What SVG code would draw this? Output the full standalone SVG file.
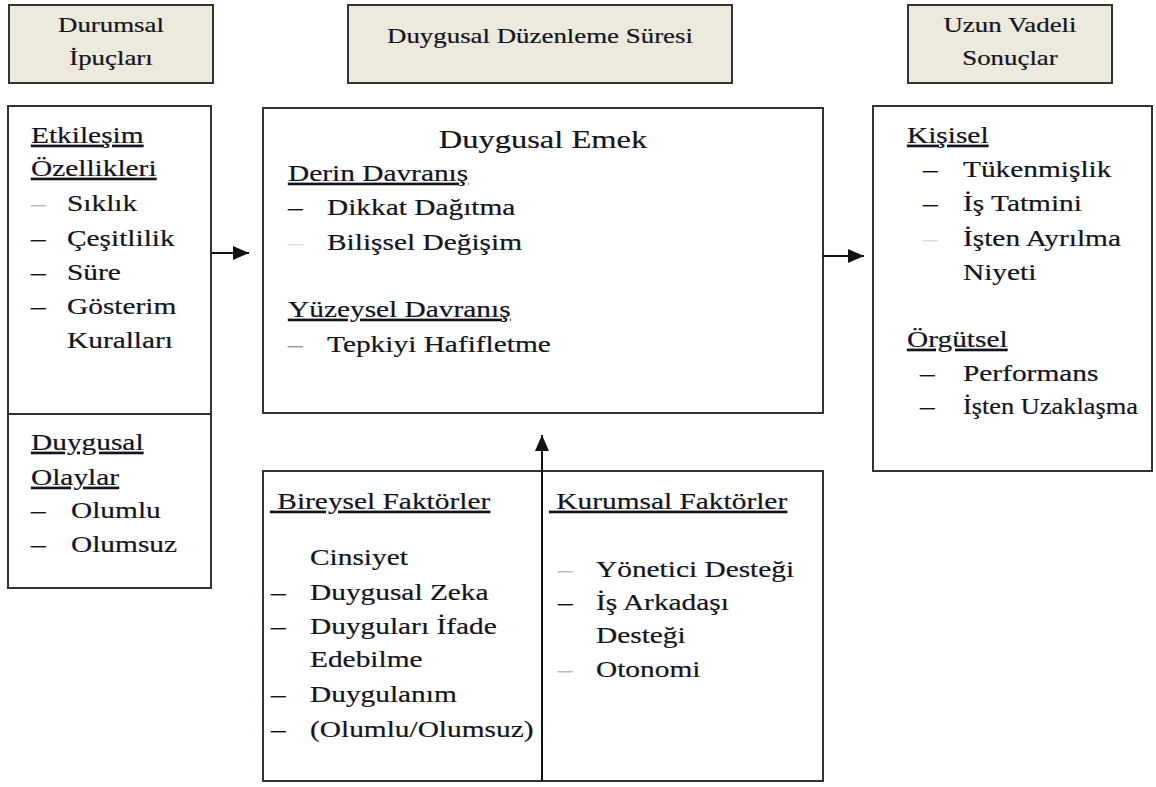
<svg xmlns="http://www.w3.org/2000/svg" width="1156" height="787" viewBox="0 0 1156 787">
<style>
.hdr{fill:#ECE9DD;stroke:#333;stroke-width:2}
.box{fill:#fff;stroke:#333;stroke-width:2}
text{font-family:"Liberation Serif","Times New Roman",serif;fill:#14141e;stroke:#14141e;stroke-width:0.2}
.h{font-size:21.5px;text-anchor:middle}
.b{font-size:23.5px}
.t{font-size:26px;text-anchor:middle}
.u{text-decoration:underline}
.d{font-size:23.5px}
.g1{fill:#bbb;stroke:#bbb}
.g2{fill:#ddd;stroke:#ddd}
.g3{fill:#999;stroke:#999}
.conn{stroke:#111;stroke-width:2;fill:none}
</style>
<defs>
<marker id="ah" markerUnits="userSpaceOnUse" markerWidth="16" markerHeight="14" refX="16" refY="7" orient="auto">
<path d="M0,0 L16,7 L0,14 z" fill="#111"/>
</marker>
</defs>
<rect width="1156" height="787" fill="#fff"/>

<g id="hdr-durumsal">
<rect class="hdr" x="9" y="5" width="204" height="78"/>
<g transform="scale(1.25,1)">
<text class="h" x="88.8" y="32">Durumsal</text>
<text class="h" x="88.8" y="65">İpuçları</text>
</g>
</g>

<g id="hdr-sure">
<rect class="hdr" x="348" y="5" width="384" height="78"/>
<g transform="scale(1.25,1)">
<text class="h" x="432" y="43">Duygusal Düzenleme Süresi</text>
</g>
</g>

<g id="hdr-sonuclar">
<rect class="hdr" x="908" y="5" width="204" height="78"/>
<g transform="scale(1.25,1)">
<text class="h" x="808" y="32">Uzun Vadeli</text>
<text class="h" x="808" y="65">Sonuçlar</text>
</g>
</g>

<g id="durumsal-ipuclari">
<rect class="box" x="8" y="106" width="203" height="482"/>
<line x1="8" y1="414" x2="211" y2="414" stroke="#333" stroke-width="2"/>
<g transform="scale(1.25,1)">
<text class="b u" x="24.8" y="143">Etkileşim</text>
<text class="b u" x="24.8" y="176">Özellikleri</text>
<text class="d g1" x="24.8" y="211">–</text><text class="b" x="53.6" y="211">Sıklık</text>
<text class="d" x="24.8" y="246">–</text><text class="b" x="53.6" y="246">Çeşitlilik</text>
<text class="d" x="24.8" y="280">–</text><text class="b" x="53.6" y="280">Süre</text>
<text class="d" x="24.8" y="314">–</text><text class="b" x="53.6" y="314">Gösterim</text>
<text class="b" x="53.6" y="348">Kuralları</text>
<text class="b u" x="24.8" y="450">Duygusal</text>
<text class="b u" x="24.8" y="485">Olaylar</text>
<text class="d" x="24.8" y="518">–</text><text class="b" x="56.8" y="518">Olumlu</text>
<text class="d" x="24.8" y="552">–</text><text class="b" x="56.8" y="552">Olumsuz</text>
</g>
</g>

<g id="duygusal-emek">
<rect class="box" x="263" y="108" width="560" height="305"/>
<g transform="scale(1.25,1)">
<text class="t" x="434.4" y="148">Duygusal Emek</text>
<text class="b u" x="230.4" y="181">Derin Davranış</text>
<text class="d" x="230.4" y="215">–</text><text class="b" x="261.6" y="215">Dikkat Dağıtma</text>
<text class="d g2" x="230.4" y="250">–</text><text class="b" x="261.6" y="250">Bilişsel Değişim</text>
<text class="b u" x="230.4" y="317">Yüzeysel Davranış</text>
<text class="d g3" x="230.4" y="352">–</text><text class="b" x="261.6" y="352">Tepkiyi Hafifletme</text>
</g>
</g>

<g id="uzun-vadeli-sonuclar">
<rect class="box" x="873" y="106" width="279" height="365"/>
<g transform="scale(1.25,1)">
<text class="b u" x="725.6" y="143">Kişisel</text>
<text class="d" x="738.4" y="177">–</text><text class="b" x="770.4" y="177">Tükenmişlik</text>
<text class="d" x="738.4" y="211">–</text><text class="b" x="770.4" y="211">İş Tatmini</text>
<text class="d g2" x="738.4" y="246">–</text><text class="b" x="770.4" y="246">İşten Ayrılma</text>
<text class="b" x="770.4" y="280">Niyeti</text>
<text class="b u" x="725.6" y="347">Örgütsel</text>
<text class="d" x="736" y="381">–</text><text class="b" x="770.4" y="381">Performans</text>
<text class="d" x="736" y="414">–</text><text class="b" x="770.4" y="414" textLength="140" lengthAdjust="spacingAndGlyphs">İşten Uzaklaşma</text>
</g>
</g>

<g id="faktorler">
<rect class="box" x="263" y="471" width="560" height="310"/>
<line x1="542" y1="471" x2="542" y2="781" stroke="#111" stroke-width="2"/>
<g transform="scale(1.25,1)">
<text class="b u" x="216" y="509" xml:space="preserve"> Bireysel Faktörler</text>
<text class="b" x="248" y="565">Cinsiyet</text>
<text class="d" x="216.8" y="600">–</text><text class="b" x="248" y="600">Duygusal Zeka</text>
<text class="d" x="216.8" y="634">–</text><text class="b" x="248" y="634">Duyguları İfade</text>
<text class="b" x="248" y="667">Edebilme</text>
<text class="d" x="216.8" y="702">–</text><text class="b" x="248" y="702">Duygulanım</text>
<text class="d" x="216.8" y="737">–</text><text class="b" x="248" y="737">(Olumlu/Olumsuz)</text>
<text class="b u" x="439.2" y="509" xml:space="preserve"> Kurumsal Faktörler</text>
<text class="d g1" x="446.4" y="577">–</text><text class="b" x="476.8" y="577">Yönetici Desteği</text>
<text class="d" x="446.4" y="610">–</text><text class="b" x="476.8" y="610">İş Arkadaşı</text>
<text class="b" x="476.8" y="643">Desteği</text>
<text class="d g1" x="446.4" y="677">–</text><text class="b" x="476.8" y="677">Otonomi</text>
</g>
</g>

<g id="connectors">
<line class="conn" x1="211" y1="253" x2="249" y2="253" marker-end="url(#ah)"/>
<line class="conn" x1="823" y1="256" x2="864" y2="256" marker-end="url(#ah)"/>
<line class="conn" x1="542" y1="472" x2="542" y2="435" marker-end="url(#ah)"/>
</g>
</svg>
